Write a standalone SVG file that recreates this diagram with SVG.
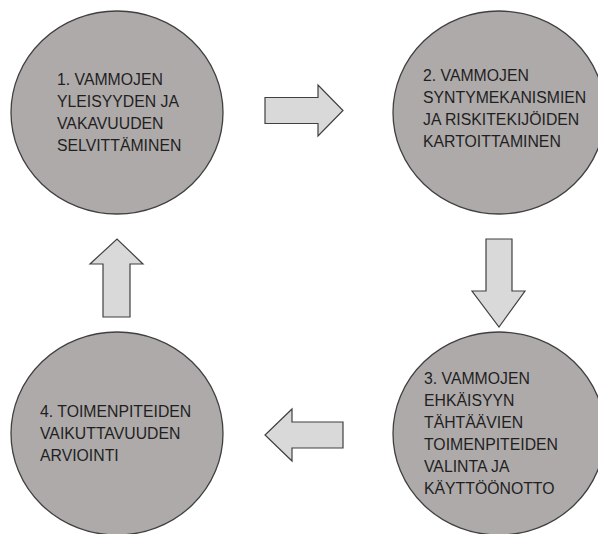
<svg xmlns="http://www.w3.org/2000/svg" width="598" height="534" viewBox="0 0 598 534">
<style>
.node ellipse{fill:#aeaaaa;stroke:#404040;stroke-width:1.3}
.node text{font-family:"Liberation Sans",Arial,sans-serif;font-size:15.8px;fill:#1f1f1f}
.conn path{fill:#d9d9d9;stroke:#404040;stroke-width:1.2;stroke-linejoin:miter}
</style>
<rect width="598" height="534" fill="#ffffff"/>
<g id="connectors" class="conn">
<path d="M265,97.5 H318 V85 L343,110.5 L318,136 V123.5 H265 Z"/>
<path d="M486,239 H512 V291 H525 L499,327 L472,291 H486 Z"/>
<path d="M343,422 H292 V409 L265,435 L292,461 V448 H343 Z"/>
<path d="M103,317 V264 H90 L117,239 L143,264 H130 V317 Z"/>
</g>
<g id="node1" class="node">
<ellipse cx="117" cy="112.5" rx="106" ry="101.5"/>
<text x="57" y="85">1. VAMMOJEN</text>
<text x="57" y="107">YLEISYYDEN JA</text>
<text x="57" y="129">VAKAVUUDEN</text>
<text x="57" y="151">SELVITTÄMINEN</text>
</g>
<g id="node2" class="node">
<ellipse cx="499" cy="112.5" rx="106" ry="101.5"/>
<text x="423" y="81">2. VAMMOJEN</text>
<text x="423" y="103">SYNTYMEKANISMIEN</text>
<text x="423" y="125">JA RISKITEKIJÖIDEN</text>
<text x="423" y="147">KARTOITTAMINEN</text>
</g>
<g id="node3" class="node">
<ellipse cx="499" cy="433.5" rx="106" ry="101.5"/>
<text x="424" y="383.5">3. VAMMOJEN</text>
<text x="424" y="405.5">EHKÄISYYN</text>
<text x="424" y="427.5">TÄHTÄÄVIEN</text>
<text x="424" y="449.5">TOIMENPITEIDEN</text>
<text x="424" y="471.5">VALINTA JA</text>
<text x="424" y="493.5">KÄYTTÖÖNOTTO</text>
</g>
<g id="node4" class="node">
<ellipse cx="117" cy="433.5" rx="106" ry="101.5"/>
<text x="40" y="416.5">4. TOIMENPITEIDEN</text>
<text x="40" y="438.5">VAIKUTTAVUUDEN</text>
<text x="40" y="460.5">ARVIOINTI</text>
</g>
</svg>
